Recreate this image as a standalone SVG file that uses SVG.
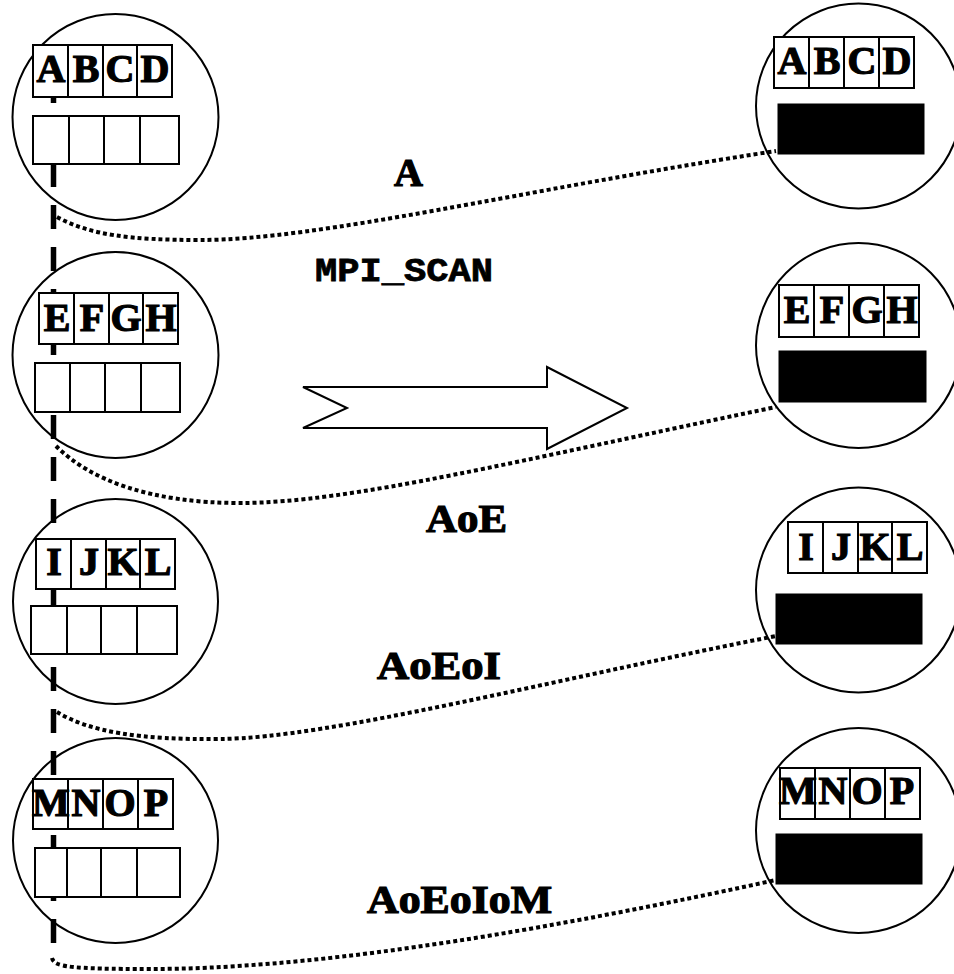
<svg xmlns="http://www.w3.org/2000/svg" width="954" height="974" viewBox="0 0 954 974">
<style>
.c{fill:none;stroke:#000;stroke-width:2}
.b{fill:#fff;stroke:#000;stroke-width:2}
.k{fill:#000;stroke:#000;stroke-width:1}
.t{font-family:"Liberation Serif","Times New Roman",serif;font-weight:bold;font-size:40px;fill:#000;stroke:#000;stroke-width:1.2;text-anchor:middle}
.m{font-family:"Liberation Mono","Courier New",monospace;font-weight:bold;font-size:34px;fill:#000;stroke:#000;stroke-width:0.8;text-anchor:middle}
.d{fill:none;stroke:#000;stroke-width:4;stroke-dasharray:4 3}
</style>
<rect width="954" height="974" fill="#fff"/>
<line x1="53.5" y1="79" x2="53.5" y2="945" stroke="#000" stroke-width="5.5" stroke-dasharray="24 18"/>
<g id="connectors">
<path class="d" d="M57,217 C90,235 130,240 200,240 C320,240 520,190 776,151"/>
<path class="d" d="M56,446 C90,480 150,503 240,503 C350,503 520,460 776,407"/>
<path class="d" d="M57,712 C90,732 140,740 220,739 C330,738 550,680 776,636"/>
<path class="d" d="M52,958 C54,967 70,969 150,969 C300,969 500,940 776,880"/>
</g>
<g id="left1">
<circle class="c" cx="115.5" cy="117" r="103"/>
<rect class="b" x="33" y="45" width="139" height="52"/>
<path class="c" d="M68,45V97M103,45V97M137,45V97"/>
<text class="t" x="51" y="82">A</text><text class="t" x="86" y="82">B</text><text class="t" x="120" y="82">C</text><text class="t" x="155" y="82">D</text>
<rect class="b" x="33" y="116" width="146" height="48"/>
<path class="c" d="M69,116V164M104,116V164M140,116V164"/>
</g>
<g id="left2">
<circle class="c" cx="115.5" cy="355" r="103"/>
<rect class="b" x="39" y="293" width="139" height="51"/>
<path class="c" d="M74,293V344M109,293V344M143,293V344"/>
<text class="t" x="57" y="331">E</text><text class="t" x="92" y="331">F</text><text class="t" x="126" y="331">G</text><text class="t" x="161" y="331">H</text>
<rect class="b" x="35" y="363" width="145" height="49"/>
<path class="c" d="M70,363V412M105,363V412M141,363V412"/>
</g>
<g id="left3">
<circle class="c" cx="115.5" cy="601.5" r="102.5"/>
<rect class="b" x="36" y="539" width="139" height="50"/>
<path class="c" d="M71,539V589M106,539V589M140,539V589"/>
<text class="t" x="54" y="575">I</text><text class="t" x="89" y="575">J</text><text class="t" x="123" y="575">K</text><text class="t" x="158" y="575">L</text>
<rect class="b" x="31" y="606" width="146" height="48"/>
<path class="c" d="M67,606V654M101,606V654M137,606V654"/>
</g>
<g id="left4">
<circle class="c" cx="115.5" cy="840.5" r="102.5"/>
<rect class="b" x="33" y="779" width="140" height="50"/>
<path class="c" d="M68,779V829M103,779V829M138,779V829"/>
<text class="t" x="51" y="816">M</text><text class="t" x="86" y="816">N</text><text class="t" x="120" y="816">O</text><text class="t" x="156" y="816">P</text>
<rect class="b" x="35" y="848" width="145" height="49"/>
<path class="c" d="M67,848V897M101,848V897M137,848V897"/>
</g>
<g id="right1">
<circle class="c" cx="858.5" cy="106" r="102.5"/>
<rect class="b" x="774" y="37" width="140" height="51"/>
<path class="c" d="M809,37V88M844,37V88M879,37V88"/>
<text class="t" x="792" y="74">A</text><text class="t" x="827" y="74">B</text><text class="t" x="862" y="74">C</text><text class="t" x="897" y="74">D</text>
<rect class="k" x="778" y="104" width="146" height="50"/>
</g>
<g id="right2">
<circle class="c" cx="858.5" cy="345.5" r="102.5"/>
<rect class="b" x="779" y="285" width="140" height="52"/>
<path class="c" d="M814,285V337M849,285V337M884,285V337"/>
<text class="t" x="797" y="323">E</text><text class="t" x="832" y="323">F</text><text class="t" x="867" y="323">G</text><text class="t" x="902" y="323">H</text>
<rect class="k" x="779" y="351" width="147" height="51"/>
</g>
<g id="right3">
<circle class="c" cx="858.5" cy="590" r="102.5"/>
<rect class="b" x="788" y="522" width="139" height="51"/>
<path class="c" d="M823,522V573M858,522V573M892,522V573"/>
<text class="t" x="806" y="560">I</text><text class="t" x="841" y="560">J</text><text class="t" x="875" y="560">K</text><text class="t" x="910" y="560">L</text>
<rect class="k" x="776" y="594" width="146" height="50"/>
</g>
<g id="right4">
<circle class="c" cx="858.5" cy="830.5" r="102.5"/>
<rect class="b" x="780" y="768" width="140" height="51"/>
<path class="c" d="M815,768V819M850,768V819M885,768V819"/>
<text class="t" x="798" y="804">M</text><text class="t" x="833" y="804">N</text><text class="t" x="867" y="804">O</text><text class="t" x="902" y="804">P</text>
<rect class="k" x="776" y="834" width="146" height="50"/>
</g>
<g id="arrow">
<polygon class="b" points="303,387 547,387 547,367 627,408 547,449 547,428 303,428 347,408"/>
</g>
<g id="labels">
<text class="t" x="408.5" y="186">A</text>
<text class="m" x="404" y="281" textLength="178" lengthAdjust="spacingAndGlyphs">MPI_SCAN</text>
<text class="t" x="466.5" y="532" textLength="81" lengthAdjust="spacingAndGlyphs">AoE</text>
<text class="t" x="439" y="679" textLength="124" lengthAdjust="spacingAndGlyphs">AoEoI</text>
<text class="t" x="459.5" y="913" textLength="185" lengthAdjust="spacingAndGlyphs">AoEoIoM</text>
</g>
</svg>
